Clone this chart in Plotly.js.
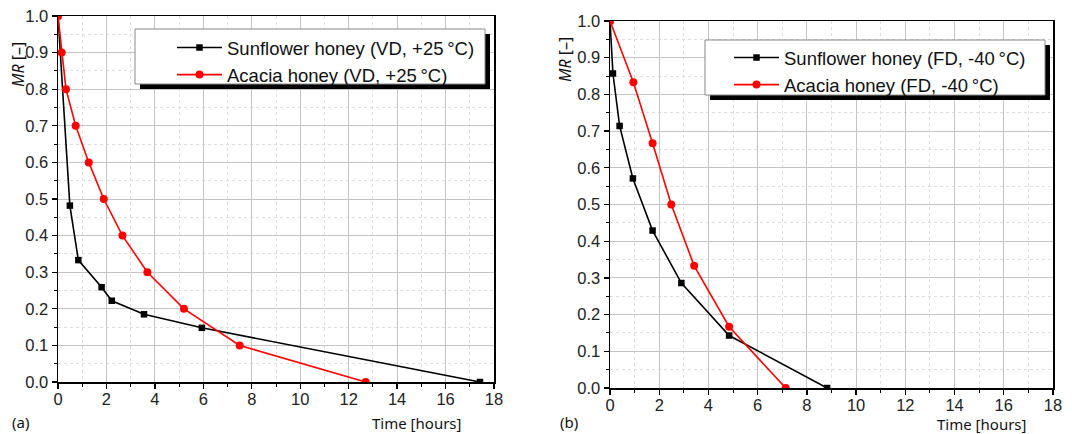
<!DOCTYPE html>
<html>
<head>
<meta charset="utf-8">
<script src="https://cdn.plot.ly/plotly-3.0.1.min.js"></script>
<style>html,body{margin:0;padding:0;background:#fff;}#chart{width:1072px;height:434px;}</style>
</head>
<body>
<div id="chart"></div>
<script>
// ---- Data ----
const sunflowerVD_t  = [0, 0.49, 0.84, 1.80, 2.22, 3.55, 5.94, 17.42];
const sunflowerVD_mr = [1.0, 0.482, 0.333, 0.259, 0.222, 0.185, 0.148, 0.0];
const acaciaVD_t  = [0, 0.15, 0.33, 0.73, 1.27, 1.89, 2.66, 3.69, 5.20, 7.50, 12.70];
const acaciaVD_mr = [1.0, 0.9, 0.8, 0.7, 0.6, 0.5, 0.4, 0.3, 0.2, 0.1, 0.0];
const sunflowerFD_t  = [0, 0.12, 0.39, 0.93, 1.73, 2.90, 4.84, 8.82];
const sunflowerFD_mr = [1.0, 0.857, 0.714, 0.571, 0.429, 0.286, 0.143, 0.0];
const acaciaFD_t  = [0, 0.95, 1.73, 2.49, 3.42, 4.84, 7.14];
const acaciaFD_mr = [1.0, 0.833, 0.667, 0.5, 0.333, 0.167, 0.0];
const seriesNames = ["Sunflower honey (VD, +25\u2009°C)", "Acacia honey (VD, +25\u2009°C)",
                     "Sunflower honey (FD, -40\u2009°C)", "Acacia honey (FD, -40\u2009°C)"];
const xTitle = "Time [hours]";
const yTitle = "<i>MR</i> [–]";
const panelLabels = ["(a)", "(b)"];

// ---- helpers ----
const W = 1072, H = 434;
const px = v => v / W;
const py = v => 1 - v / H;

const tickFont = {family: "Liberation Sans, Arial, sans-serif", size: 16.5, color: "#222"};
const titleFont = {family: "Noto Sans, Open Sans, sans-serif", size: 15, color: "#111"};
const yTitleFont = {family: "Noto Sans, Open Sans, sans-serif", size: 16, color: "#111"};

function lineTrace(x, y, name, color, symbol, size, xa, ya, leg) {
  return {x: x, y: y, name: name, type: "scatter", mode: "lines+markers",
          xaxis: xa, yaxis: ya, legend: leg,
          line: {color: color, width: 1.6},
          marker: {color: color, symbol: symbol, size: size}};
}

const data = [
  lineTrace(sunflowerVD_t, sunflowerVD_mr, seriesNames[0], "#000000", "square", 6.5, "x", "y", "legend"),
  lineTrace(acaciaVD_t, acaciaVD_mr, seriesNames[1], "#ff0000", "circle", 8, "x", "y", "legend"),
  lineTrace(sunflowerFD_t, sunflowerFD_mr, seriesNames[2], "#000000", "square", 6.5, "x2", "y2", "legend2"),
  lineTrace(acaciaFD_t, acaciaFD_mr, seriesNames[3], "#ff0000", "circle", 8, "x2", "y2", "legend2")
];

function xAxis(domain, anchor) {
  return {domain: domain, anchor: anchor, range: [0, 18], dtick: 2, tick0: 0,
          showline: true, linecolor: "#000", linewidth: 1.5, mirror: true,
          ticks: "outside", ticklen: 5, tickwidth: 1.3, tickcolor: "#000",
          ticklabelstandoff: -3,
          showgrid: true, gridcolor: "#c4c4c4", gridwidth: 1, zeroline: false,
          tickfont: tickFont,
          minor: {dtick: 1, ticks: "outside", ticklen: 3, tickwidth: 1, tickcolor: "#000",
                  showgrid: true, gridcolor: "#dedede", griddash: "dot", gridwidth: 1}};
}
function yAxis(domain, anchor) {
  return {domain: domain, anchor: anchor, range: [0, 1], dtick: 0.1, tick0: 0, tickformat: ".1f",
          showline: true, linecolor: "#000", linewidth: 1.5, mirror: true,
          ticks: "outside", ticklen: 5, tickwidth: 1.3, tickcolor: "#000",
          showgrid: true, gridcolor: "#c4c4c4", gridwidth: 1, zeroline: false,
          tickfont: tickFont,
          minor: {dtick: 0.05, ticks: "outside", ticklen: 3, tickwidth: 1, tickcolor: "#000",
                  showgrid: true, gridcolor: "#dedede", griddash: "dot", gridwidth: 1}};
}

function legendBox(x0, y0, x1, y1, off) {
  return [
    {type: "rect", xref: "paper", yref: "paper", layer: "above",
     x0: px(x0 + off), x1: px(x1 + off), y0: py(y1 + off), y1: py(y0 + off),
     fillcolor: "#000", line: {width: 0}},
    {type: "rect", xref: "paper", yref: "paper", layer: "above",
     x0: px(x0), x1: px(x1), y0: py(y1), y1: py(y0),
     fillcolor: "#fff", line: {color: "#888", width: 1}}
  ];
}

const legFont = {family: "Liberation Sans, Arial, sans-serif", size: 18.5, color: "#111"};

const layout = {
  width: W, height: H,
  margin: {l: 0, r: 0, t: 0, b: 0},
  paper_bgcolor: "#fff", plot_bgcolor: "#fff",
  showlegend: true,
  xaxis: xAxis([px(58), px(494)], "y"),
  yaxis: yAxis([py(382), py(16)], "x"),
  xaxis2: xAxis([px(610), px(1053)], "y2"),
  yaxis2: yAxis([py(388), py(21)], "x2"),
  legend: {x: px(172), y: py(29), xanchor: "left", yanchor: "top",
           bgcolor: "rgba(0,0,0,0)", borderwidth: 0, font: legFont,
           itemwidth: 45, tracegroupgap: 0, itemclick: false},
  legend2: {x: px(729), y: py(39), xanchor: "left", yanchor: "top",
           bgcolor: "rgba(0,0,0,0)", borderwidth: 0, font: legFont,
           itemwidth: 45, tracegroupgap: 0, itemclick: false},
  shapes: [].concat(legendBox(135, 29, 485, 84, 5), legendBox(705, 40, 1045, 95, 5)),
  annotations: [
    {xref: "paper", yref: "paper", x: px(370), y: py(423), xanchor: "left", yanchor: "middle",
     text: xTitle, showarrow: false, font: titleFont},
    {xref: "paper", yref: "paper", x: px(935), y: py(424), xanchor: "left", yanchor: "middle",
     text: xTitle, showarrow: false, font: titleFont},
    {xref: "paper", yref: "paper", x: px(18), y: py(65), xanchor: "center", yanchor: "middle",
     text: yTitle, textangle: -90, showarrow: false, font: yTitleFont},
    {xref: "paper", yref: "paper", x: px(565), y: py(60), xanchor: "center", yanchor: "middle",
     text: yTitle, textangle: -90, showarrow: false, font: yTitleFont},
    {xref: "paper", yref: "paper", x: px(10), y: py(422), xanchor: "left", yanchor: "middle",
     text: panelLabels[0], showarrow: false, font: titleFont},
    {xref: "paper", yref: "paper", x: px(558), y: py(422), xanchor: "left", yanchor: "middle",
     text: panelLabels[1], showarrow: false, font: titleFont}
  ]
};

Plotly.newPlot("chart", data, layout, {displayModeBar: false, staticPlot: true});
</script>
</body>
</html>
